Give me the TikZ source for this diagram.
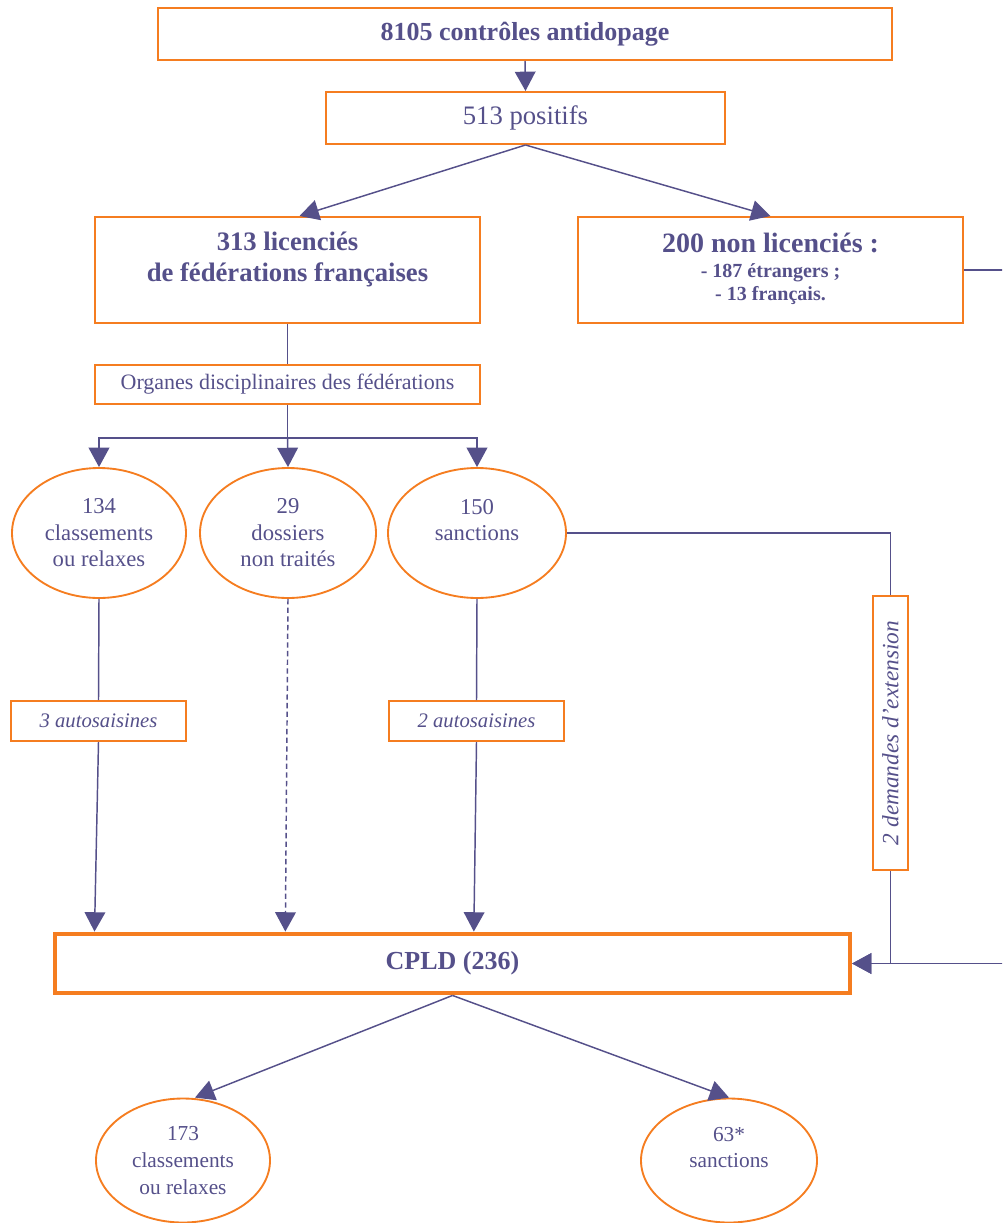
\documentclass[tikz,border=0pt]{standalone}
\usepackage{fontspec}
\setmainfont{Liberation Serif}
\usetikzlibrary{arrows.meta,shapes.geometric,calc}
\definecolor{txt}{RGB}{85,80,138}
\definecolor{org}{RGB}{245,125,32}
\begin{document}
\begin{tikzpicture}[x=0.75pt,y=-0.75pt,
 box/.style={draw=org,line width=1.5pt,rectangle,inner sep=0pt,text=txt,align=center},
 ell/.style={draw=org,line width=1.4pt,ellipse,inner sep=0pt,text=txt,align=center,font=\fontsize{17}{19.9}\selectfont},
 lbl/.style={text=txt,align=center,inner sep=0pt},
 conn/.style={draw=txt,line width=1.1pt},
 arr/.style={conn,-{Triangle[length=14.5pt,width=15.5pt]}},
]
\useasboundingbox (0,0) rectangle (1002,1223);
\clip (0,0) rectangle (1002,1223);

% top boxes
\node[box,minimum width=550.5pt,minimum height=39pt,font=\fontsize{19.5}{22}\selectfont\bfseries] (b1) at (525,34) {8105 contrôles antidopage};
\node[box,minimum width=299.25pt,minimum height=39pt,font=\fontsize{20}{22}\selectfont] (b2) at (525.5,118) {513 positifs};
\node[box,minimum width=288.75pt,minimum height=79.5pt] (b3) at (287.5,270) {};
\node[lbl,font=\fontsize{20}{23.25}\selectfont\bfseries] (b3t) at (287.5,259) {313 licenciés\\de fédérations françaises};
\node[box,minimum width=288.75pt,minimum height=79.5pt] (b4) at (770.5,270) {};
\node[lbl,font=\fontsize{21}{18.75}\selectfont\bfseries] (b4a) at (770.5,243) {200 non licenciés :};
\node[lbl,font=\fontsize{15}{17}\selectfont\bfseries] (b4b) at (770.5,284) {- 187 étrangers ;\\- 13 français.};

\node[box,minimum width=288.75pt,minimum height=29.25pt,font=\fontsize{16.5}{19}\selectfont] (org) at (287.5,384.5) {Organes disciplinaires des fédérations};

% ellipses
\node[ell,minimum width=130.5pt,minimum height=97.5pt] (e1) at (99,533) {134\\classements\\ou relaxes};
\node[ell,minimum width=132pt,minimum height=97.5pt] (e2) at (288,533) {29\\dossiers\\non traités};
\node[ell,minimum width=133.5pt,minimum height=97.5pt] (e3) at (477,533) {150\\sanctions\\\mbox{}};

\node[box,minimum width=131.25pt,minimum height=30pt,font=\fontsize{15.5}{18}\selectfont\itshape] (a1) at (98.5,721) {3 autosaisines};
\node[box,minimum width=131.25pt,minimum height=30pt,font=\fontsize{15.5}{18}\selectfont\itshape] (a2) at (476.5,721) {2 autosaisines};
\node[box,rotate=90,minimum width=205.5pt,minimum height=26.25pt,font=\fontsize{17.5}{19}\selectfont\itshape] (ext) at (890.5,733) {2 demandes d'extension};

\node[box,line width=3.4pt,minimum width=596pt,minimum height=44.5pt,font=\fontsize{19.5}{22}\selectfont\bfseries] (cpld) at (452.5,963.5) {CPLD (236)};

\node[ell,minimum width=130.5pt,minimum height=93pt,font=\fontsize{16}{19.9}\selectfont] (e4) at (183,1160.5) {173\\classements\\ou relaxes};
\node[ell,minimum width=132pt,minimum height=93pt,font=\fontsize{16}{19.9}\selectfont] (e5) at (729,1160.5) {63*\\sanctions\\\mbox{}};

% connectors
\draw[arr] (b1.south) -- (b2.north);
\draw[arr] (b2.south) -- ([xshift=9pt]b3.north);
\draw[arr] (b2.south) -- (b4.north);
\draw[arr] (b4.east) -- ++(60,0) |- (cpld.east);
\draw[conn] (b3.south) -- (org.north);
\draw[conn] (org.south) -- ++(0,33) coordinate (split);
\draw[arr] (split) -| (e1.north);
\draw[arr] (split) -- (e2.north);
\draw[arr] (split) -| (e3.north);
\draw[conn] (e1.south) -- (a1.north);
\draw[arr] (a1.south) -- ([xshift=-3pt]a1.south |- cpld.north);
\draw[arr,dash pattern=on 4pt off 2.5pt] (e2.south) -- ([xshift=-2pt]e2.south |- cpld.north);
\draw[conn] (e3.south) -- (a2.north);
\draw[arr] (a2.south) -- ([xshift=-2pt]a2.south |- cpld.north);
\draw[conn] (e3.east) -| (ext.east);
\draw[arr] (ext.west) |- (cpld.east);
\draw[arr] (cpld.south) -- ([xshift=9pt]e4.north);
\draw[arr] (cpld.south) -- (e5.north);
\end{tikzpicture}
\end{document}
